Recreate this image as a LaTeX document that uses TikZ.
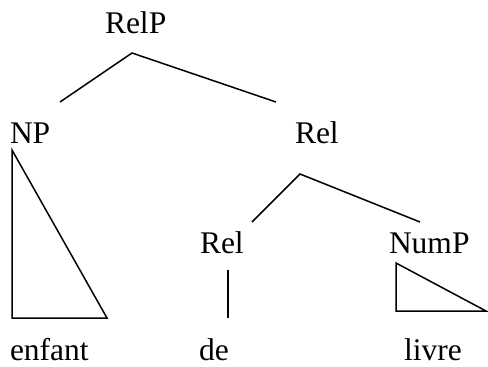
\documentclass[tikz,border=0pt]{standalone}
\usepackage{fontspec}
\setmainfont{Liberation Serif}
\begin{document}
\begin{tikzpicture}[x=1pt,y=-1pt,
  lbl/.style={anchor=base west,inner sep=0pt,outer sep=0pt,font=\fontsize{31.5}{36}\selectfont},
  edge/.style={line width=1.5pt,line join=miter},
  tri/.style={line width=1.5pt,line join=miter}]
\useasboundingbox (0,0) rectangle (488,367);
% labels
\node[lbl] (relp) at (105,33) {RelP};
\node[lbl] (np) at (10,143) {NP};
\node[lbl] (rel) at (295,143) {Rel};
\node[lbl] (rel2) at (200,253) {Rel};
\node[lbl] (nump) at (389,253) {NumP};
\node[lbl] (enfant) at (10,360) {enfant};
\node[lbl] (de) at (199,360) {de};
\node[lbl] (livre) at (404,360) {livre};
% connector ends
\coordinate (relpB) at (132,53);
\coordinate (npT) at (60,102);
\coordinate (relT) at (276,102);
\coordinate (relB) at (300,174);
\coordinate (rel2T) at (252,222);
\coordinate (numpT) at (420,222);
\coordinate (rel2B) at (228,270);
\coordinate (deT) at (228,318);
% edges
\draw[edge] (npT) -- (relpB) -- (relT);
\draw[edge] (rel2T) -- (relB) -- (numpT);
\draw[edge] (rel2B) -- (deT);
% triangles
\draw[tri] (12,150) -- (12,318) -- (107,318) -- cycle;
\draw[tri] (396,263) -- (396,311) -- (486,311) -- cycle;
\end{tikzpicture}
\end{document}
